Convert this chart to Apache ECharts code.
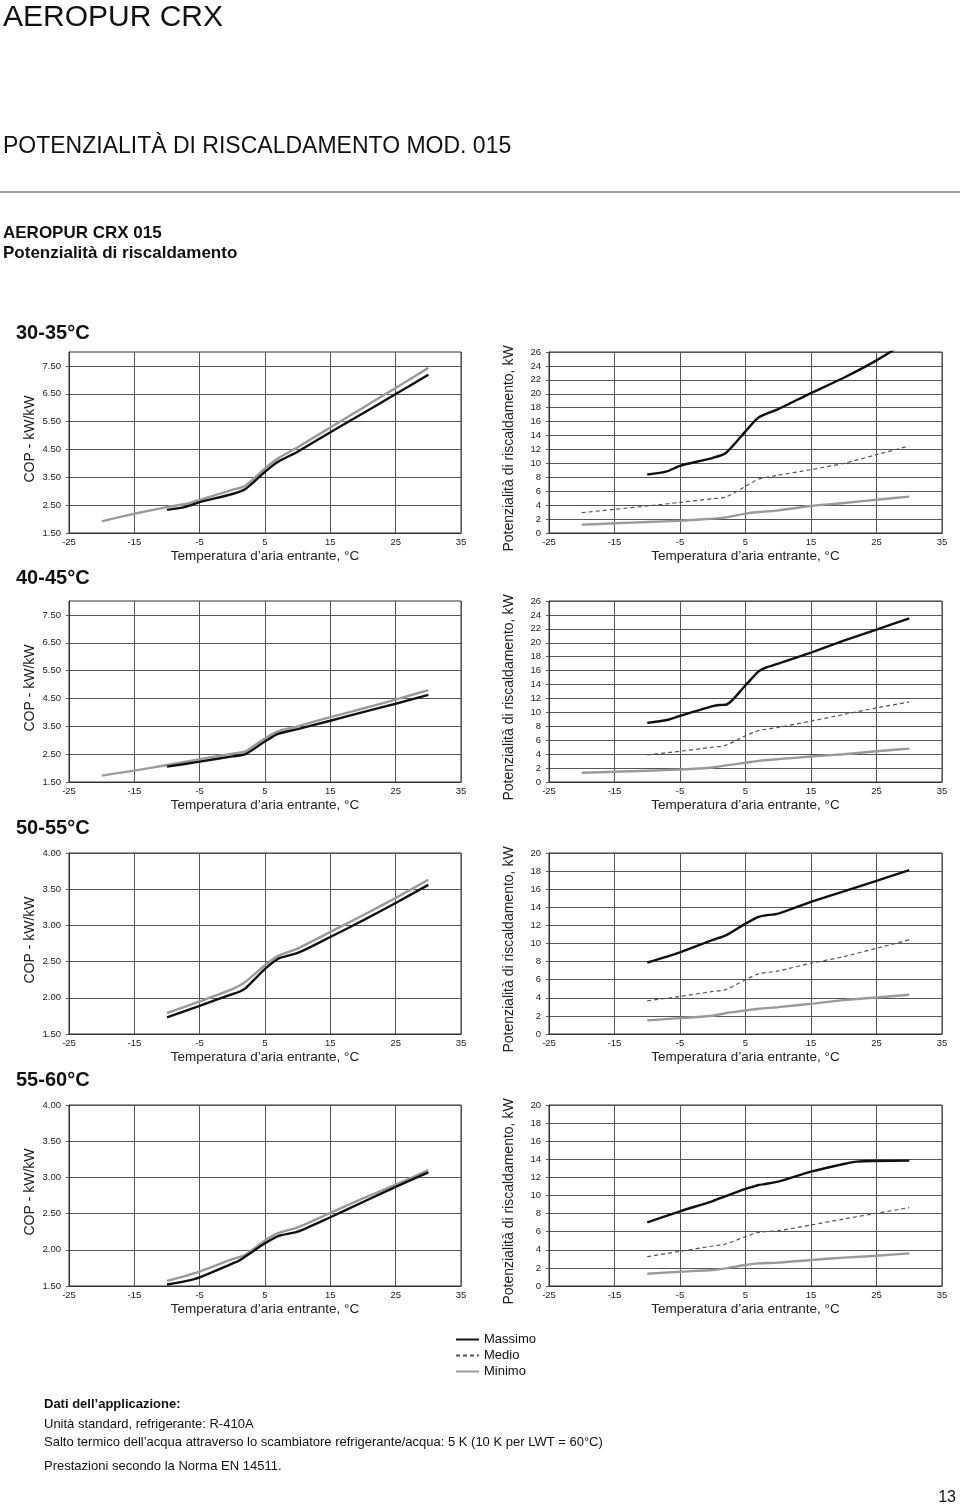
<!DOCTYPE html>
<html><head><meta charset="utf-8">
<script src="https://cdn.jsdelivr.net/npm/echarts@6/dist/echarts.min.js"></script>
<style>html,body{margin:0;padding:0;background:#fff}#c{width:960px;height:1510px}</style>
</head><body><div id="c"></div>
<script>
// ---------- tick labels ----------
const xTicks = [-25, -15, -5, 5, 15, 25, 35];
const copTicksHigh = [1.5, 2.5, 3.5, 4.5, 5.5, 6.5, 7.5];
const copTicksLow = [1.5, 2.0, 2.5, 3.0, 3.5, 4.0];
const kwTicks26 = [0, 2, 4, 6, 8, 10, 12, 14, 16, 18, 20, 22, 24, 26];
const kwTicks20 = [0, 2, 4, 6, 8, 10, 12, 14, 16, 18, 20];

// ---------- 30-35 °C ----------
const cop35MaxT = [-10, -7, -5, 0, 2, 5, 7, 10, 15, 20, 25, 30];
const cop35Max  = [2.33, 2.45, 2.61, 2.90, 3.08, 3.70, 4.06, 4.42, 5.12, 5.80, 6.49, 7.18];
const cop35MinT = [-20, -15, -10, -7, -5, 0, 2, 5, 7, 10, 15, 20, 25, 30];
const cop35Min  = [1.92, 2.19, 2.43, 2.55, 2.69, 3.05, 3.20, 3.82, 4.18, 4.58, 5.29, 6.00, 6.71, 7.43];
const kw35MaxT = [-10, -7, -5, 0, 2, 5, 7, 10, 15, 20, 25, 30];
const kw35Max  = [8.4, 8.85, 9.65, 10.8, 11.5, 14.6, 16.6, 17.8, 20.1, 22.3, 24.8, 27.7];
const kw35MidT = [-20, -15, -10, -5, 0, 2, 5, 7, 10, 15, 20, 25, 30];
const kw35Mid  = [2.92, 3.4, 3.88, 4.4, 4.93, 5.17, 6.7, 7.75, 8.3, 9.1, 10.0, 11.25, 12.5];
const kw35MinT = [-20, -15, -10, -5, 0, 2, 5, 7, 10, 15, 20, 25, 30];
const kw35Min  = [1.2, 1.39, 1.58, 1.77, 2.06, 2.25, 2.78, 3.01, 3.25, 3.88, 4.3, 4.78, 5.22];

// ---------- 40-45 °C ----------
const cop45MaxT = [-10, -5, 0, 2, 5, 7, 10, 15, 20, 25, 30];
const cop45Max  = [2.05, 2.23, 2.42, 2.50, 2.96, 3.23, 3.40, 3.70, 4.01, 4.31, 4.63];
const cop45MinT = [-20, -15, -10, -5, 0, 2, 5, 7, 10, 15, 20, 25, 30];
const cop45Min  = [1.73, 1.91, 2.11, 2.32, 2.52, 2.60, 3.07, 3.32, 3.50, 3.83, 4.14, 4.46, 4.80];
const kw45MaxT = [-10, -7, -5, 0, 1, 2, 5, 7, 8, 10, 15, 20, 25, 30];
const kw45Max  = [8.5, 8.9, 9.5, 10.9, 11.07, 11.1, 13.9, 15.9, 16.4, 17.0, 18.6, 20.3, 21.9, 23.5];
const kw45MidT = [-10, -5, 0, 2, 5, 7, 10, 15, 20, 25, 30];
const kw45Mid  = [3.9, 4.42, 5.0, 5.28, 6.65, 7.37, 7.84, 8.75, 9.7, 10.65, 11.5];
const kw45MinT = [-20, -15, -10, -5, 0, 2, 5, 7, 10, 15, 20, 25, 30];
const kw45Min  = [1.33, 1.47, 1.62, 1.8, 2.09, 2.38, 2.76, 3.04, 3.28, 3.66, 3.99, 4.42, 4.8];

// ---------- 50-55 °C ----------
const cop55MaxT = [-10, -5, 0, 1, 2, 5, 7, 8, 10, 15, 20, 25, 30];
const cop55Max  = [1.73, 1.89, 2.05, 2.08, 2.13, 2.40, 2.54, 2.57, 2.62, 2.84, 3.07, 3.31, 3.56];
const cop55MinT = [-10, -5, 0, 2, 5, 7, 10, 15, 20, 25, 30];
const cop55Min  = [1.79, 1.95, 2.12, 2.22, 2.45, 2.58, 2.68, 2.91, 3.14, 3.38, 3.63];
const kw55MaxT = [-10, -5, 0, 2, 5, 7, 8, 10, 15, 20, 25, 30];
const kw55Max  = [7.9, 9.03, 10.4, 10.9, 12.2, 12.95, 13.1, 13.3, 14.6, 15.77, 16.93, 18.1];
const kw55MidT = [-10, -5, 0, 2, 5, 7, 10, 15, 20, 25, 30];
const kw55Mid  = [3.67, 4.15, 4.7, 4.9, 6.0, 6.64, 6.97, 7.82, 8.55, 9.47, 10.4];
const kw55MinT = [-10, -5, 0, 2, 5, 7, 10, 15, 20, 25, 30];
const kw55Min  = [1.5, 1.76, 2.02, 2.31, 2.6, 2.79, 2.97, 3.34, 3.74, 4.04, 4.33];

// ---------- 55-60 °C ----------
const cop60MaxT = [-10, -7, -5, 0, 1, 5, 7, 10, 15, 20, 25, 30];
const cop60Max  = [1.52, 1.57, 1.62, 1.81, 1.85, 2.09, 2.19, 2.25, 2.45, 2.66, 2.87, 3.07];
const cop60MinT = [-10, -5, 0, 2, 5, 7, 10, 15, 20, 25, 30];
const cop60Min  = [1.57, 1.70, 1.87, 1.93, 2.13, 2.23, 2.31, 2.51, 2.71, 2.90, 3.10];
const kw60MaxT = [-10, -5, 0, 2, 5, 7, 8, 10, 15, 20, 22, 25, 30];
const kw60Max  = [7.03, 8.25, 9.39, 9.94, 10.72, 11.16, 11.27, 11.53, 12.63, 13.48, 13.74, 13.81, 13.85];
const kw60MidT = [-10, -5, 0, 2, 5, 7, 10, 15, 20, 25, 30];
const kw60Mid  = [3.24, 3.83, 4.42, 4.64, 5.45, 5.93, 6.11, 6.74, 7.4, 8.03, 8.66];
const kw60MinT = [-10, -5, 0, 2, 5, 7, 10, 15, 20, 25, 30];
const kw60Min  = [1.36, 1.58, 1.77, 1.95, 2.32, 2.5, 2.58, 2.87, 3.13, 3.35, 3.61];

const sectionLabels = ['30-35°C', '40-45°C', '50-55°C', '55-60°C'];
const seriesNames = ['Massimo', 'Medio', 'Minimo'];

// ---------- layout ----------
const FONT = 'Liberation Sans, Arial, Helvetica, sans-serif';
const rowTops = [352, 601, 853, 1105];
const rowH = 181;
const leftX = 69, leftW = 392, rightX = 549, rightW = 393;
const sectionTops = [323, 568, 818, 1070];

const pts = (t, v) => t.map((x, i) => [x, v[i]]);

const styles = {
  Massimo: { color: '#111', width: 2.4, type: 'solid' },
  Medio:   { color: '#555', width: 1.2, type: [4, 3] },
  Minimo:  { color: '#9a9a9a', width: 2.4, type: 'solid' }
};

const charts = [
  { side: 'L', yMin: 1.5, yMax: 8, ticks: copTicksHigh, dec: 2,
    lines: [['Minimo', cop35MinT, cop35Min], ['Massimo', cop35MaxT, cop35Max]] },
  { side: 'R', yMin: 0, yMax: 26, ticks: kwTicks26, dec: 0,
    lines: [['Minimo', kw35MinT, kw35Min], ['Medio', kw35MidT, kw35Mid], ['Massimo', kw35MaxT, kw35Max]] },
  { side: 'L', yMin: 1.5, yMax: 8, ticks: copTicksHigh, dec: 2,
    lines: [['Minimo', cop45MinT, cop45Min], ['Massimo', cop45MaxT, cop45Max]] },
  { side: 'R', yMin: 0, yMax: 26, ticks: kwTicks26, dec: 0,
    lines: [['Minimo', kw45MinT, kw45Min], ['Medio', kw45MidT, kw45Mid], ['Massimo', kw45MaxT, kw45Max]] },
  { side: 'L', yMin: 1.5, yMax: 4, ticks: copTicksLow, dec: 2,
    lines: [['Minimo', cop55MinT, cop55Min], ['Massimo', cop55MaxT, cop55Max]] },
  { side: 'R', yMin: 0, yMax: 20, ticks: kwTicks20, dec: 0,
    lines: [['Minimo', kw55MinT, kw55Min], ['Medio', kw55MidT, kw55Mid], ['Massimo', kw55MaxT, kw55Max]] },
  { side: 'L', yMin: 1.5, yMax: 4, ticks: copTicksLow, dec: 2,
    lines: [['Minimo', cop60MinT, cop60Min], ['Massimo', cop60MaxT, cop60Max]] },
  { side: 'R', yMin: 0, yMax: 20, ticks: kwTicks20, dec: 0,
    lines: [['Minimo', kw60MinT, kw60Min], ['Medio', kw60MidT, kw60Mid], ['Massimo', kw60MaxT, kw60Max]] }
];

const grid = [], xAxis = [], yAxis = [], series = [];
const gridLine = { show: true, lineStyle: { color: '#555', width: 1 } };
charts.forEach((c, i) => {
  const row = Math.floor(i / 2);
  const isL = c.side === 'L';
  grid.push({
    left: isL ? leftX : rightX, top: rowTops[row],
    width: isL ? leftW : rightW, height: rowH,
    show: true, borderColor: '#333', borderWidth: 1, backgroundColor: '#fff',
    containLabel: false, outerBoundsMode: 'none'
  });
  xAxis.push({
    type: 'value', gridIndex: i, min: -25, max: 35,
    name: 'Temperatura d’aria entrante, °C', nameLocation: 'middle', nameGap: 16,
    nameMoveOverlap: false,
    nameTextStyle: { fontFamily: FONT, fontSize: 13.5, color: '#222' },
    axisLine: { show: true, onZero: false, lineStyle: { color: '#333', width: 1 } },
    axisTick: { show: false, customValues: xTicks },
    axisLabel: { customValues: xTicks, fontFamily: FONT, fontSize: 9.5, color: '#222', margin: 4,
                 formatter: v => String(v) },
    splitLine: gridLine
  });
  yAxis.push({
    type: 'value', gridIndex: i, min: c.yMin, max: c.yMax,
    name: isL ? 'COP - kW/kW' : 'Potenzialità di riscaldamento, kW',
    nameLocation: 'middle', nameGap: isL ? 32 : 33, nameRotate: 90,
    nameMoveOverlap: false,
    nameTextStyle: { fontFamily: FONT, fontSize: 14, color: '#222',
                     padding: isL ? [0, 0, 0, 7] : [0, 12, 0, 0] },
    axisLine: { show: true, onZero: false, lineStyle: { color: '#333', width: 1 } },
    axisTick: { show: true, length: 3, customValues: c.ticks, lineStyle: { color: '#555' } },
    axisLabel: { customValues: c.ticks, fontFamily: FONT, fontSize: 9.5, color: '#222', margin: 8,
                 formatter: v => v.toFixed(c.dec) },
    splitLine: gridLine
  });
  c.lines.forEach(([name, t, v]) => {
    const s = styles[name];
    series.push({
      type: 'line', name, xAxisIndex: i, yAxisIndex: i,
      data: pts(t, v), symbol: 'none', smooth: 0.25, clip: true,
      lineStyle: { color: s.color, width: s.width, type: s.type },
      itemStyle: { color: s.color },
      emphasis: { disabled: true }, silent: true, animation: false
    });
  });
});

const title = [
  { text: 'AEROPUR CRX', left: 3, top: 3, padding: 0,
    textStyle: { fontFamily: FONT, fontSize: 30, fontWeight: 'normal', color: '#111' } },
  { text: 'POTENZIALITÀ DI RISCALDAMENTO MOD. 015', left: 3, top: 135, padding: 0,
    textStyle: { fontFamily: FONT, fontSize: 23, fontWeight: 'normal', color: '#111' } },
  { text: 'AEROPUR CRX 015', left: 3, top: 225, padding: 0,
    textStyle: { fontFamily: FONT, fontSize: 17, fontWeight: 'bold', color: '#111' } },
  { text: 'Potenzialità di riscaldamento', left: 3, top: 245, padding: 0,
    textStyle: { fontFamily: FONT, fontSize: 17, fontWeight: 'bold', color: '#111' } },
  { text: 'Dati dell’applicazione:', left: 44, top: 1398, padding: 0,
    textStyle: { fontFamily: FONT, fontSize: 13, fontWeight: 'bold', color: '#111' } },
  { text: 'Unità standard, refrigerante: R-410A', left: 44, top: 1418, padding: 0,
    textStyle: { fontFamily: FONT, fontSize: 13, fontWeight: 'normal', color: '#111' } },
  { text: 'Salto termico dell’acqua attraverso lo scambiatore refrigerante/acqua: 5 K (10 K per LWT = 60°C)', left: 44, top: 1436, padding: 0,
    textStyle: { fontFamily: FONT, fontSize: 13, fontWeight: 'normal', color: '#111' } },
  { text: 'Prestazioni secondo la Norma EN 14511.', left: 44, top: 1460, padding: 0,
    textStyle: { fontFamily: FONT, fontSize: 13, fontWeight: 'normal', color: '#111' } },
  { text: '13', right: 4, top: 1490, padding: 0,
    textStyle: { fontFamily: FONT, fontSize: 16, fontWeight: 'normal', color: '#111' } }
];
sectionLabels.forEach((s, k) => title.push({
  text: s, left: 16, top: sectionTops[k], padding: 0,
  textStyle: { fontFamily: FONT, fontSize: 20, fontWeight: 'bold', color: '#111' }
}));

const option = {
  backgroundColor: '#fff',
  animation: false,
  title,
  legend: {
    data: seriesNames, orient: 'vertical', left: 455, top: 1333,
    itemWidth: 23, itemHeight: 14, itemGap: 3, padding: 0,
    itemStyle: { opacity: 0 },
    textStyle: { fontFamily: FONT, fontSize: 13, color: '#111' },
    selectedMode: false
  },
  graphic: [
    { type: 'line', shape: { x1: 0, y1: 192, x2: 960, y2: 192 }, style: { stroke: '#444', lineWidth: 1 }, silent: true }
  ],
  grid, xAxis, yAxis, series
};

const chart = echarts.init(document.getElementById('c'), null, { renderer: 'canvas', width: 960, height: 1510 });
chart.setOption(option);
</script></body></html>
